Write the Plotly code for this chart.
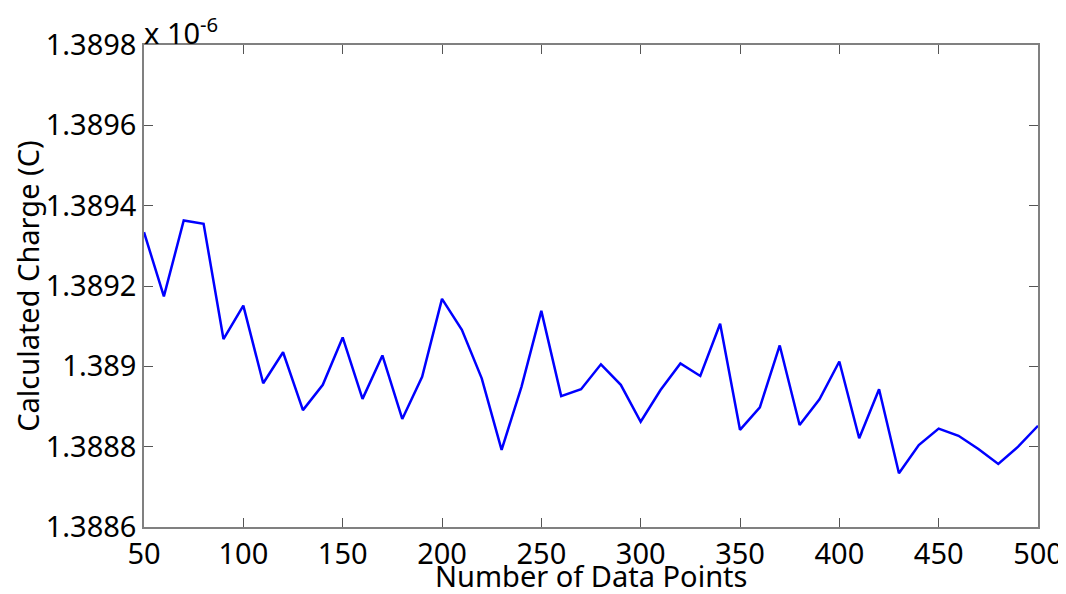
import plotly.graph_objects as go

# Number of data points (x) and calculated charge in units of 1e-6 C (y)
num_points = list(range(50, 501, 10))
charge_e6 = [
    1.389334, 1.389174, 1.389363, 1.389355, 1.389068, 1.389151, 1.388958, 1.389035,
    1.388891, 1.388954, 1.389072, 1.388919, 1.389027, 1.388869, 1.388974, 1.389168,
    1.389091, 1.388970, 1.388792, 1.388949, 1.389138, 1.388926, 1.388943, 1.389005,
    1.388954, 1.388862, 1.388941, 1.389007, 1.388976, 1.389106, 1.388842, 1.388898,
    1.389052, 1.388854, 1.388918, 1.389012, 1.388821, 1.388943, 1.388734, 1.388804,
    1.388845, 1.388827, 1.388794, 1.388757, 1.388800, 1.388852,
]

x_ticks = [50, 100, 150, 200, 250, 300, 350, 400, 450, 500]
y_ticks = [1.3886, 1.3888, 1.3890, 1.3892, 1.3894, 1.3896, 1.3898]
y_tick_text = ["1.3886", "1.3888", "1.389", "1.3892", "1.3894", "1.3896", "1.3898"]

FONT = "Noto Sans, DejaVu Sans, sans-serif"
FS = 29

fig = go.Figure()
fig.add_trace(go.Scatter(
    x=num_points, y=charge_e6, mode="lines",
    line=dict(color="#0000FF", width=2.5),
    showlegend=False,
))

axis_common = dict(
    showline=True, linecolor="#808080", linewidth=1.5, mirror="ticks",
    ticks="inside", ticklen=9, tickcolor="#555555", tickwidth=1,
    showgrid=False, zeroline=False, automargin=False,
    tickfont=dict(family=FONT, size=FS, color="#000000"),
)

fig.update_xaxes(range=[50, 500], tickvals=x_ticks, **axis_common)
fig.update_yaxes(
    range=[1.3886, 1.3898], tickvals=y_ticks, ticktext=y_tick_text,
    title=dict(text="Calculated Charge (C)", font=dict(family=FONT, size=FS, color="#000000"), standoff=0),
    **axis_common,
)

# x-axis title placed just under the tick labels
fig.add_annotation(
    text="Number of Data Points", xref="paper", yref="paper", x=0.5, y=0,
    xanchor="center", yanchor="top", showarrow=False,
    font=dict(family=FONT, size=FS, color="#000000"), yshift=-27,
)
fig.add_annotation(
    text="x 10<sup>-6</sup>", xref="paper", yref="paper", x=0, y=1,
    xanchor="left", yanchor="bottom", showarrow=False,
    font=dict(family=FONT, size=FS, color="#000000"), xshift=-2, yshift=-9,
)

# page body has an 8px margin; size the figure so it fits the window
fig.update_layout(
    width=1058, height=586,
    margin=dict(l=136, r=28, t=37, b=67),
    plot_bgcolor="white", paper_bgcolor="white",
    font=dict(family=FONT),
)

fig.write_html("out.html")
